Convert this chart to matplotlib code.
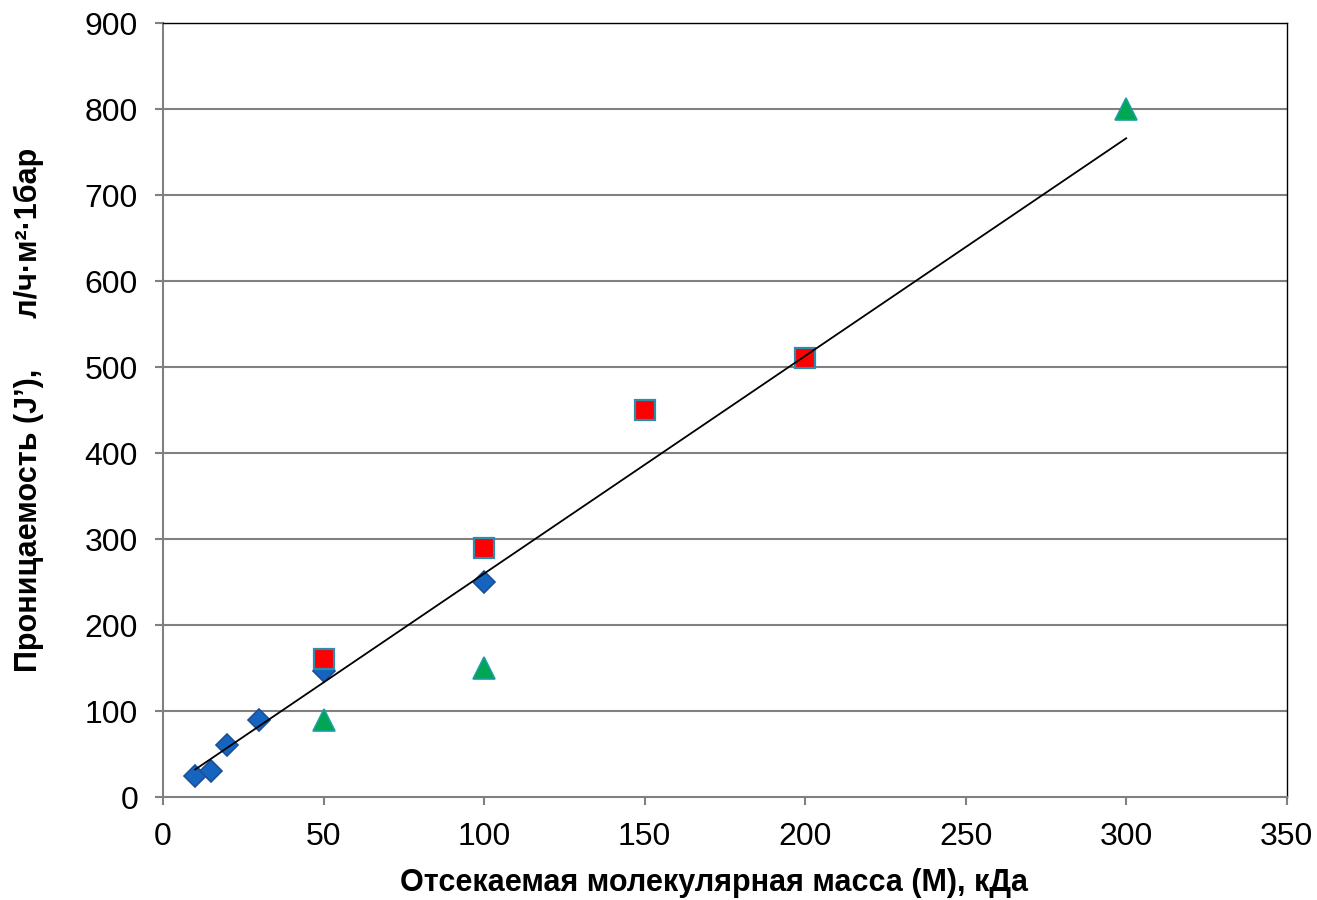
import matplotlib.pyplot as plt

plt.rcParams['font.family'] = ['Liberation Sans', 'DejaVu Sans']

# blue diamonds
x1 = [10, 15, 20, 30, 50, 100]
y1 = [25, 30, 61, 90, 146, 250]
# red squares
x2 = [50, 100, 150, 200]
y2 = [160, 290, 450, 510]
# green triangles
x3 = [50, 100, 300]
y3 = [90, 150, 800]
# trend line (ends)
tx = [10, 300]
ty = [32, 766]

fig = plt.figure(figsize=(13.17, 9), dpi=100)
ax = fig.add_axes([0.1238, 0.1144, 0.8532, 0.86])

grid_c = '#808080'
for v in range(100, 901, 100):
    ax.axhline(v, color=grid_c, lw=1.5, zorder=1)

ax.plot(x1, y1, 'D', ms=11, mfc='#1565C0', mec='#1F4E99', mew=1.2, zorder=3)
ax.plot(x2, y2, 's', ms=14, mfc='#FF0000', mec='#2E8BB0', mew=1.6, zorder=4)
ax.plot(x3, y3, '^', ms=15.5, mfc='#00A651', mec='#1A9FA0', mew=1.2, zorder=4)
ax.plot(tx, ty, color='black', lw=1.3, zorder=5)

ax.set_xlim(0, 350)
ax.set_ylim(0, 900)
ax.set_xticks(range(0, 351, 50))
ax.set_yticks(range(0, 901, 100))
ax.tick_params(labelsize=23, length=6, width=1.5, color=grid_c, direction='out')
ax.tick_params(axis='x', pad=12)
ax.tick_params(axis='y', pad=12)

for s in ['left', 'bottom']:
    ax.spines[s].set_color(grid_c)
    ax.spines[s].set_linewidth(1.5)
for s in ['top', 'right']:
    ax.spines[s].set_color('black')
    ax.spines[s].set_linewidth(1.0)

ax.set_xlabel('Отсекаемая молекулярная масса (М), кДа', fontsize=22,
              fontweight='bold')
ax.xaxis.set_label_coords(0.49, -0.092)
ax.set_ylabel('Проницаемость (J’),      л/ч·м²·1бар', fontsize=22,
              fontweight='bold')
ax.yaxis.set_label_coords(-0.106, 0.5)

fig.savefig('out.png', dpi=100)
